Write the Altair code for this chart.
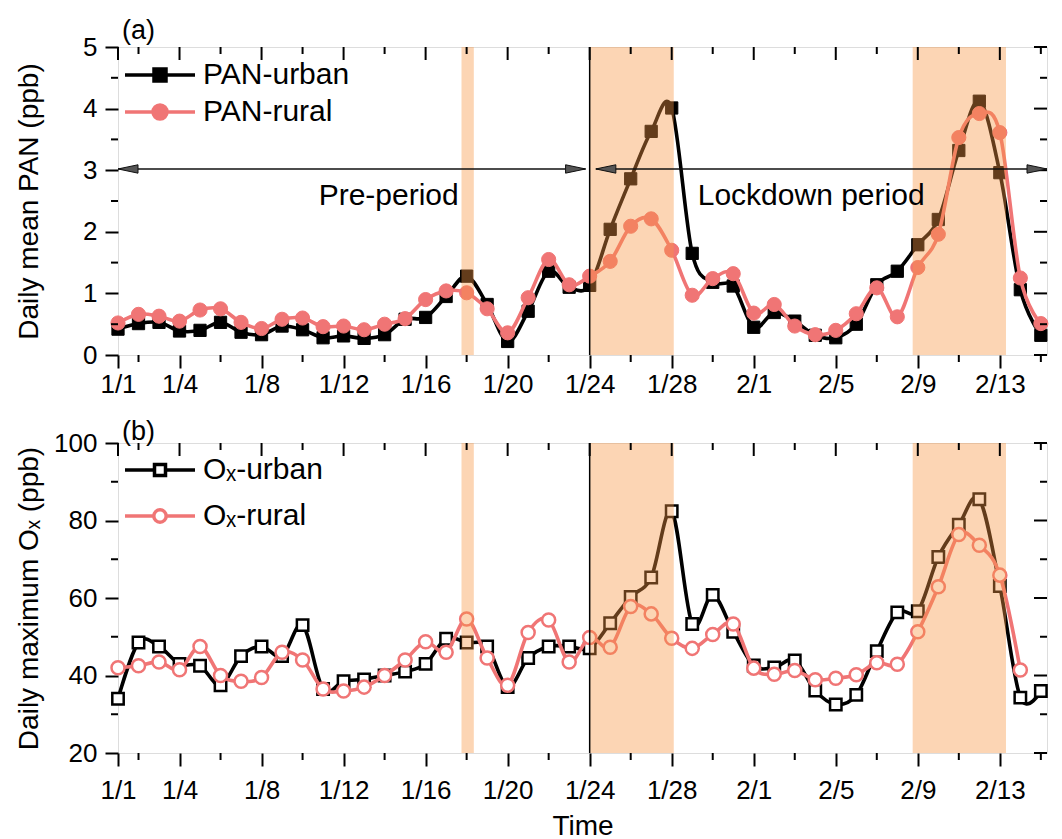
import altair as alt
import pandas as pd

FONT = "Liberation Sans"

# ---------------- data ----------------
days = list(range(46))
pan_urban = [0.42, 0.51, 0.53, 0.39, 0.40, 0.53, 0.37, 0.33, 0.47, 0.41,
             0.28, 0.31, 0.27, 0.33, 0.58, 0.61, 0.95, 1.28, 0.82, 0.22,
             0.71, 1.36, 1.10, 1.13, 2.04, 2.86, 3.63, 4.01, 1.65, 1.18,
             1.12, 0.45, 0.69, 0.55, 0.32, 0.28, 0.50, 1.14, 1.36, 1.79,
             2.20, 3.32, 4.12, 2.96, 1.06, 0.32]
pan_rural = [0.52, 0.66, 0.63, 0.55, 0.73, 0.75, 0.53, 0.43, 0.58, 0.60,
             0.46, 0.47, 0.41, 0.50, 0.59, 0.90, 1.04, 1.01, 0.75, 0.36,
             0.93, 1.55, 1.14, 1.28, 1.52, 2.09, 2.21, 1.70, 0.97, 1.24,
             1.32, 0.68, 0.82, 0.47, 0.33, 0.40, 0.67, 1.09, 0.62, 1.42,
             1.96, 3.53, 3.92, 3.61, 1.25, 0.51]
ox_urban = [34.0, 48.5, 47.5, 43.0, 42.5, 37.5, 45.0, 47.5, 45.0, 53.0,
            36.5, 38.5, 39.0, 40.0, 41.0, 43.0, 49.5, 48.5, 47.5, 37.0,
            44.5, 47.5, 47.5, 47.0, 53.5, 60.3, 65.3, 82.4, 53.3, 60.8,
            51.3, 42.6, 42.1, 43.9, 36.1, 32.5, 35.0, 46.3, 56.3, 56.6,
            70.6, 78.9, 85.5, 63.1, 34.3, 36.0]
ox_rural = [42.0, 42.5, 43.5, 41.5, 47.5, 40.0, 38.5, 39.5, 46.0, 44.0,
            36.5, 36.0, 37.0, 40.0, 44.0, 48.7, 46.0, 54.6, 44.5, 37.5,
            51.1, 54.3, 43.5, 49.8, 47.3, 57.8, 55.9, 49.6, 47.0, 50.6,
            53.3, 41.9, 40.3, 41.3, 38.9, 39.3, 40.2, 43.3, 42.9, 51.3,
            62.9, 76.4, 73.6, 65.9, 41.4]

pan_names = ["PAN-urban", "PAN-rural"]
ox_names = ["O\u2093-urban", "O\u2093-rural"]

band_start = [16.75, 23.0, 38.75]
band_end = [17.35, 27.1, 43.3]
lockdown_day = [23]

x_major = [0, 3, 7, 11, 15, 19, 23, 27, 31, 35, 39, 43]
x_labels = ["1/1", "1/4", "1/8", "1/12", "1/16", "1/20", "1/24", "1/28",
            "2/1", "2/5", "2/9", "2/13"]
x_minor = [1, 5, 9, 13, 17, 21, 25, 29, 33, 37, 41, 45]
X_MAX = 45.3

pan_major = [0, 1, 2, 3, 4, 5]
pan_minor = [0.5, 1.5, 2.5, 3.5, 4.5]
ox_major = [20, 40, 60, 80, 100]
ox_minor = [30, 50, 70, 90]

arrow_start = [0.0, 23.3]
arrow_end = [22.8, 45.3]
arrow_level = [3.02, 3.02]
period_labels = ["Pre-period", "Lockdown period"]
period_x = [13.2, 33.8]
period_y = [2.43, 2.43]

# ---------------- styling ----------------
BLACK = "#000000"
PINK = "#F07575"
BAND = "#F89643"
W = 929
LABEL_EXPR = "{}[indexof({}, datum.value)]".format(
    "[" + ",".join("'%s'" % s for s in x_labels) + "]",
    "[" + ",".join(str(v) for v in x_major) + "]")
MAJOR, MINOR = 13, 7


def sym_square_line(h, gap):
    return "M-3.5,0H{g}M{G},0H3.5M-{h},-{h}H{h}V{h}H-{h}Z".format(g=-gap, G=gap, h=h)


def sym_circle_line(r, gap):
    return ("M-3.5,0H{g}M{G},0H3.5M-{r},0A{r},{r},0,1,0,{r},0A{r},{r},0,1,0,-{r},0Z"
            .format(g=-gap, G=gap, r=r))


def panel(names, u_vals, r_vals, y_dom, y_major, y_minor, y_title, height,
          fill_range, point_sw, sizes, legend_paths, leg_y, row_pad, label_pad,
          x_title, extra):
    df_u = pd.DataFrame({"day": days[:len(u_vals)], "value": u_vals, "series": names[0]})
    df_r = pd.DataFrame({"day": days[:len(r_vals)], "value": r_vals, "series": names[1]})
    df_all = pd.concat([df_u, df_r])
    xs = alt.Scale(domain=[0, X_MAX], nice=False, zero=False)
    ys = alt.Scale(domain=y_dom, nice=False, zero=False)
    stroke_sc = alt.Scale(domain=names, range=[BLACK, PINK])
    fill_sc = alt.Scale(domain=names, range=fill_range)
    shape_sc = alt.Scale(domain=names, range=legend_paths)
    leg = alt.Legend(orient="none", legendX=27, legendY=leg_y, title=None,
                     symbolSize=400, symbolStrokeWidth=3.5,
                     labelFont=FONT, labelFontSize=30, labelColor="black",
                     rowPadding=row_pad, padding=0, labelOffset=28)

    x_axis = alt.Axis(orient="bottom", values=x_major, tickSize=MAJOR, labelExpr=LABEL_EXPR,
                      grid=False, domain=False, tickColor="black", tickWidth=2,
                      labelFlush=False, labelOverlap=False,
                      labelFont=FONT, labelFontSize=26, labelColor="black",
                      labelPadding=label_pad,
                      titleFont=FONT, titleFontSize=28, titleFontWeight="normal",
                      titleColor="black", titlePadding=9)
    y_axis = alt.Axis(orient="left", values=y_major, tickSize=MAJOR, format="d",
                      grid=False, domain=False, tickColor="black", tickWidth=2,
                      labelFlush=False, labelOverlap=False,
                      labelFont=FONT, labelFontSize=26, labelColor="black", labelPadding=8,
                      titleFont=FONT, titleFontSize=28, titleFontWeight="normal",
                      titleColor="black", titleX=-75, titleY=height / 2,
                      titleBaseline="bottom")

    def X(f):
        return alt.X(f, scale=xs, axis=x_axis, title=x_title)

    def Y(f):
        return alt.Y(f, scale=ys, axis=y_axis, title=y_title)

    def line(df):
        return alt.Chart(df).mark_line(interpolate="cardinal", strokeWidth=3.6).encode(
            x=X("day:Q"), y=Y("value:Q"),
            stroke=alt.Stroke("series:N", scale=stroke_sc, legend=leg))

    def pts(df, shape, size):
        return alt.Chart(df).mark_point(shape=shape, size=size, filled=True, opacity=1,
                                        strokeWidth=point_sw).encode(
            x=X("day:Q"), y=Y("value:Q"),
            stroke=alt.Stroke("series:N", scale=stroke_sc, legend=leg),
            fill=alt.Fill("series:N", scale=fill_sc, legend=leg))

    bands = alt.Chart(pd.DataFrame({"start": band_start, "end": band_end})).mark_rect(
        color=BAND, opacity=0.4).encode(x=X("start:Q"), x2="end:Q")
    vline = alt.Chart(pd.DataFrame({"day": lockdown_day})).mark_rule(
        color="black", strokeWidth=1.5).encode(x=X("day:Q"))

    # minor ticks, and inward ticks on the top / right frame
    dfx_maj = pd.DataFrame({"t": x_major})
    dfx_min = pd.DataFrame({"t": x_minor})
    dfy_maj = pd.DataFrame({"t": y_major})
    dfy_min = pd.DataFrame({"t": y_minor})
    tk = dict(color="black", strokeWidth=2)
    ticks = [
        alt.Chart(dfx_min).mark_rule(**tk).encode(x=X("t:Q"), y=alt.value(height),
                                                  y2=alt.value(height + MINOR)),
        alt.Chart(dfx_maj).mark_rule(**tk).encode(x=X("t:Q"), y=alt.value(0),
                                                  y2=alt.value(MAJOR)),
        alt.Chart(dfx_min).mark_rule(**tk).encode(x=X("t:Q"), y=alt.value(0),
                                                  y2=alt.value(MINOR)),
        alt.Chart(dfy_min).mark_rule(**tk).encode(y=Y("t:Q"), x=alt.value(-MINOR),
                                                  x2=alt.value(0)),
        alt.Chart(dfy_maj).mark_rule(**tk).encode(y=Y("t:Q"), x=alt.value(W - MAJOR),
                                                  x2=alt.value(W)),
        alt.Chart(dfy_min).mark_rule(**tk).encode(y=Y("t:Q"), x=alt.value(W - MINOR),
                                                  x2=alt.value(W)),
    ]

    legend_layer = alt.Chart(df_all).transform_filter("false").mark_point(
        filled=True, opacity=1).encode(
        x=X("day:Q"), y=Y("value:Q"),
        shape=alt.Shape("series:N", scale=shape_sc, legend=leg),
        stroke=alt.Stroke("series:N", scale=stroke_sc, legend=leg),
        fill=alt.Fill("series:N", scale=fill_sc, legend=leg))

    layers = ([line(df_u), pts(df_u, "square", sizes[0]), line(df_r),
               pts(df_r, "circle", sizes[1]), bands, vline] + ticks + extra(X, Y)
              + [legend_layer])
    return alt.layer(*layers)


def pan_extra(X, Y):
    df_arrow = pd.DataFrame({"x1": arrow_start, "x2": arrow_end, "y": arrow_level})
    rules = alt.Chart(df_arrow).mark_rule(color="#111111", strokeWidth=1.6).encode(
        x=X("x1:Q"), x2="x2:Q", y=Y("y:Q"))
    head = dict(size=400, filled=True, fill="#555555", stroke="#111111", strokeWidth=1, opacity=1)
    left_heads = alt.Chart(df_arrow).mark_point(shape="M0,0L2,-0.42L2,0.42Z", **head).encode(
        x=X("x1:Q"), y=Y("y:Q"))
    right_heads = alt.Chart(df_arrow).mark_point(shape="M0,0L-2,-0.42L-2,0.42Z", **head).encode(
        x=X("x2:Q"), y=Y("y:Q"))
    texts = alt.Chart(pd.DataFrame({"label": period_labels, "x": period_x, "y": period_y})).mark_text(
        font=FONT, fontSize=30, align="center", baseline="alphabetic", color="black").encode(
        x=X("x:Q"), y=Y("y:Q"), text="label:N")
    return [rules, left_heads, right_heads, texts]


def no_extra(X, Y):
    return []


top = panel(pan_names, pan_urban, pan_rural, [0, 5], pan_major, pan_minor,
            "Daily mean PAN (ppb)", 308, [BLACK, PINK], 1, [150, 200],
            [sym_square_line(0.6, 0), sym_circle_line(0.7, 0)], 13, 7, 3, None, pan_extra
            ).properties(width=W, height=308,
                         title=alt.Title("(a)", anchor="start", frame="group", font=FONT,
                                         fontSize=27, fontWeight="normal", color="black",
                                         offset=-11, dx=4))

bottom = panel(ox_names, ox_urban, ox_rural, [20, 100], ox_major, ox_minor,
               "Daily maximum O\u2093 (ppb)", 310, ["white", "white"], 2.5, [130, 170],
               [sym_square_line(0.55, 0.55), sym_circle_line(0.62, 0.62)], 12, 16, 11,
               "Time", no_extra
               ).properties(width=W, height=310,
                            title=alt.Title("(b)", anchor="start", frame="group", font=FONT,
                                            fontSize=27, fontWeight="normal", color="black",
                                            offset=-16, dx=4))

chart = alt.vconcat(top, bottom, spacing=19).resolve_scale(
    y="independent", stroke="independent", fill="independent", shape="independent"
).properties(
    padding={"left": 6, "top": 8, "right": 0, "bottom": 0}
).configure_view(stroke="black", strokeWidth=2.2).configure(font=FONT)

chart.save("out.html", embed_options={"renderer": "svg", "actions": False})
